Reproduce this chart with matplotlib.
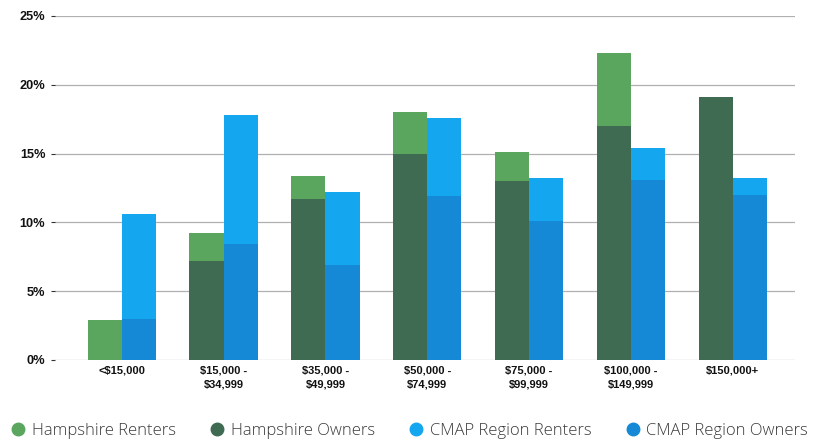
import matplotlib
matplotlib.use("Agg")
import matplotlib.pyplot as plt
from matplotlib.lines import Line2D
import numpy as np

categories = ["<$15,000", "$15,000 -\n$34,999", "$35,000 -\n$49,999", "$50,000 -\n$74,999",
              "$75,000 -\n$99,999", "$100,000 -\n$149,999", "$150,000+"]
hampshire_owners = [0.0, 7.2, 11.7, 15.0, 13.0, 17.0, 19.1]
hampshire_renters = [2.9, 2.0, 1.7, 3.0, 2.1, 5.3, 0.0]
cmap_owners = [3.0, 8.4, 6.9, 11.9, 10.1, 13.1, 12.0]
cmap_renters = [7.6, 9.4, 5.3, 5.7, 3.1, 2.3, 1.2]
y_ticks = [0, 5, 10, 15, 20, 25]
y_tick_labels = ["0%", "5%", "10%", "15%", "20%", "25%"]
series_names = ["Hampshire Renters", "Hampshire Owners", "CMAP Region Renters", "CMAP Region Owners"]

c_h_rent = "#5aa65f"
c_h_own = "#3f6b52"
c_c_rent = "#14a6ee"
c_c_own = "#1689d6"

fig = plt.figure(figsize=(8.23, 4.42), dpi=100)
ax = fig.add_axes([55 / 823, (442 - 360) / 442, 740 / 823, 344 / 442])

x = np.arange(len(categories))
w = 0.335
ax.bar(x - w / 2, hampshire_owners, w, color=c_h_own, zorder=3)
ax.bar(x - w / 2, hampshire_renters, w, bottom=hampshire_owners, color=c_h_rent, zorder=3)
ax.bar(x + w / 2, cmap_owners, w, color=c_c_own, zorder=3)
ax.bar(x + w / 2, cmap_renters, w, bottom=cmap_owners, color=c_c_rent, zorder=3)

ax.set_xlim(-0.655, 6.61)
ax.set_ylim(0, 25)
ax.set_yticks(y_ticks)
ax.set_yticklabels(y_tick_labels, fontfamily="Liberation Sans", fontweight="bold", fontsize=9.2,
                   color="#111111")
ax.set_xticks(x)
ax.set_xticklabels(categories, fontfamily="Liberation Sans", fontweight="bold", fontsize=8,
                   linespacing=1.45, color="#111111")
ax.grid(axis="y", color="#b0b0b0", linewidth=0.9, zorder=0)
ax.tick_params(axis="y", length=3, width=0.8, color="#333333", pad=4)
ax.tick_params(axis="x", length=0, pad=4)
for s in ax.spines.values():
    s.set_visible(False)

handles = [Line2D([], [], marker="o", linestyle="none", markersize=9, color=c)
           for c in [c_h_rent, c_h_own, c_c_rent, c_c_own]]
fig.legend(handles, series_names, loc="center", bbox_to_anchor=(0.497, 1 - 431 / 442), ncol=4,
           frameon=False, prop={"family": "Open Sans", "size": 12, "weight": "light"},
           labelcolor="#3a3a3a", handletextpad=0.3, columnspacing=2.0, handlelength=1.0)

fig.savefig("out.png", dpi=100)
